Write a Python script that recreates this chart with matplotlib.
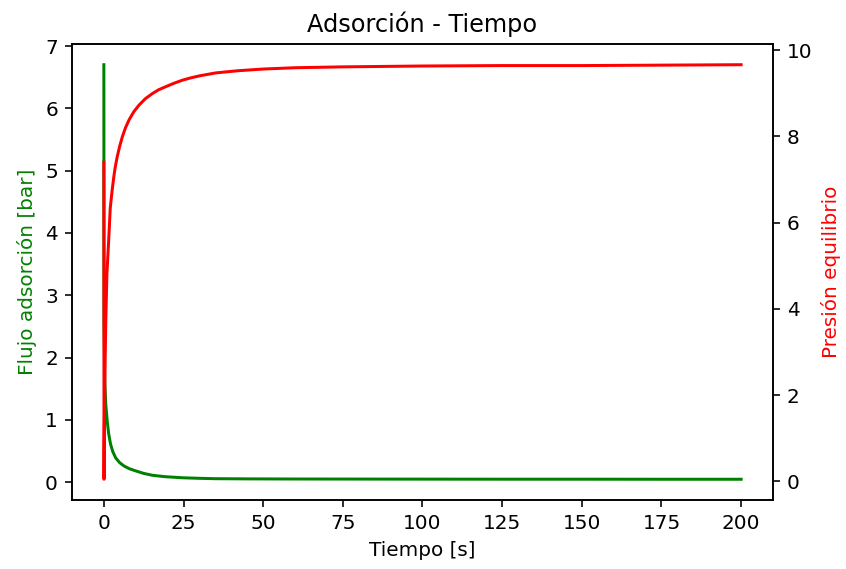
import matplotlib
matplotlib.use("Agg")
import matplotlib.pyplot as plt

# Adsorption flux (left axis) sampled over time
t_flujo = [0, 0.05, 0.3, 0.6, 1.05, 1.5, 2.1, 2.8, 3.7, 5.0, 6.3, 8.0, 10, 12.5, 15.2,
           19, 24.6, 30, 35, 45, 60, 80, 100, 125, 150, 175, 200]
flujo = [6.7, 2.6, 1.6, 1.25, 0.98, 0.78, 0.61, 0.49, 0.39, 0.31, 0.26, 0.215, 0.18, 0.14, 0.11,
         0.088, 0.07, 0.061, 0.055, 0.052, 0.05, 0.049, 0.048, 0.047, 0.047, 0.046, 0.046]

# Equilibrium pressure (right axis) sampled over time
t_presion = [0, 0.05, 0.1, 0.3, 0.6, 0.95, 1.5, 2.0, 2.6, 3.14, 3.6, 4.2, 5.0, 5.8, 6.8, 7.9,
             9.4, 11.0, 13.0, 15.2, 17.2, 19.4, 22, 24.6, 27, 29.9, 35.1, 42, 50, 60, 75,
             100, 125, 150, 175, 200]
presion = [7.4, 0.05, 0.8, 2.3, 3.7, 4.8, 5.57, 6.33, 6.75, 7.07, 7.3, 7.53, 7.78, 7.99, 8.2, 8.38,
           8.57, 8.72, 8.87, 8.99, 9.08, 9.15, 9.23, 9.30, 9.35, 9.40, 9.47, 9.52, 9.56, 9.59, 9.61,
           9.63, 9.64, 9.64, 9.65, 9.66]

DPI = 144
fig, ax1 = plt.subplots(figsize=(846 / DPI, 569 / DPI), dpi=DPI)
fig.subplots_adjust(left=0.0851, right=0.9137, top=0.9227, bottom=0.1213)

ax1.plot(t_flujo, flujo, color="green", linewidth=1.5)
ax1.set_xlabel("Tiempo [s]")
ax1.set_ylabel("Flujo adsorción [bar]", color="green")
ax1.set_title("Adsorción - Tiempo")

ax2 = ax1.twinx()
ax2.plot(t_presion, presion, color="red", linewidth=1.5)
ax2.set_ylabel("Presión equilibrio", color="red")

fig.savefig("out.png", dpi=DPI)
